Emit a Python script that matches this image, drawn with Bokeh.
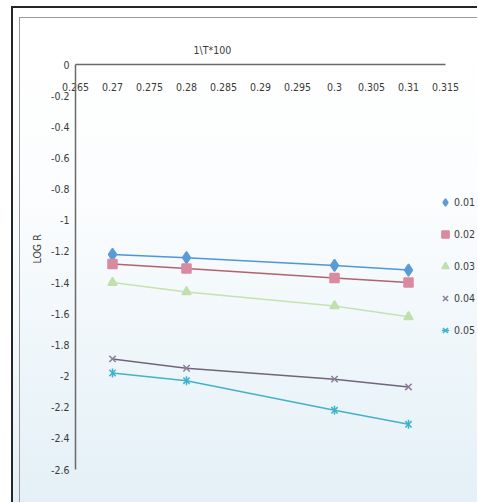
import math
from bokeh.plotting import figure
from bokeh.layouts import column
from bokeh.models import FixedTicker, Legend, LegendItem, Title
from bokeh.embed import file_html
from bokeh.resources import INLINE

# ---- data ----
x_vals = [0.27, 0.28, 0.30, 0.31]
series_names = ["0.01", "0.02", "0.03", "0.04", "0.05"]
s001 = [-1.22, -1.24, -1.29, -1.32]
s002 = [-1.28, -1.31, -1.37, -1.40]
s003 = [-1.40, -1.46, -1.55, -1.62]
s004 = [-1.89, -1.95, -2.02, -2.07]
s005 = [-1.98, -2.03, -2.22, -2.31]

x_ticks = [0.265, 0.27, 0.275, 0.28, 0.285, 0.29, 0.295, 0.3, 0.305, 0.31, 0.315]
x_tick_labels = ["0.265", "0.27", "0.275", "0.28", "0.285", "0.29", "0.295", "0.3", "0.305", "0.31", "0.315"]
y_ticks = [0, -0.2, -0.4, -0.6, -0.8, -1, -1.2, -1.4, -1.6, -1.8, -2, -2.2, -2.4, -2.6]
y_tick_labels = ["0", "-0.2", "-0.4", "-0.6", "-0.8", "-1", "-1.2", "-1.4", "-1.6", "-1.8", "-2", "-2.2", "-2.4", "-2.6"]

x_title = "1\\T*100"
y_title = "LOG R"

FONT = "DejaVu Sans Condensed, Liberation Sans Narrow, Liberation Sans, sans-serif"
TXT = "#3a3a3a"

W, H = 458, 485
FH = 405
ML, MT = 55, 46
AXW = 370                      # pixel length of the x axis (0.265 .. 0.315)
FW = W - ML                    # frame reaches the right edge (room for the legend)
x0, x1 = x_ticks[0], x_ticks[-1]
x_end = x0 + (x1 - x0) * FW / AXW

p = figure(width=W, height=H, output_backend="svg", toolbar_location=None,
           x_range=(x0, x_end), y_range=(y_ticks[-1], y_ticks[0]),
           x_axis_location="above", y_axis_location="left",
           min_border_left=ML, min_border_right=0,
           min_border_top=MT, min_border_bottom=H - MT - FH)
p.styles = {"border-left": "1px solid #9a9a9a", "border-top": "1px solid #9a9a9a",
            "background": "linear-gradient(to bottom, #ffffff 0%, #fcfdfe 35%, #eef6fa 70%, #e4f0f7 100%)"}
p.background_fill_alpha = 0
p.border_fill_alpha = 0
p.outline_line_color = None
p.xgrid.grid_line_color = None
p.ygrid.grid_line_color = None

xa = p.xaxis[0]
xa.bounds = (x0, x1)
xa.ticker = FixedTicker(ticks=x_ticks)
xa.major_label_overrides = {t: l for t, l in zip(x_ticks, x_tick_labels)}
xa.major_tick_out = 0
xa.major_tick_in = 0
xa.minor_tick_out = 0
xa.minor_tick_in = 0
xa.major_label_standoff = -26
xa.axis_line_color = "#6a6a6a"
xa.axis_line_width = 1.5

ya = p.yaxis[0]
ya.ticker = FixedTicker(ticks=y_ticks)
ya.major_label_overrides = {t: l for t, l in zip(y_ticks, y_tick_labels)}
ya.major_tick_out = 0
ya.major_tick_in = 0
ya.minor_tick_out = 0
ya.minor_tick_in = 0
ya.major_label_standoff = 6
ya.axis_line_color = "#6a6a6a"
ya.axis_line_width = 1.5

for ax in (xa, ya):
    ax.major_label_text_font = FONT
    ax.major_label_text_font_size = "10.5px"
    ax.major_label_text_color = TXT

xt = Title(text=x_title, align="left", offset=118, standoff=17,
           text_font=FONT, text_font_size="10.5px", text_font_style="normal", text_color=TXT)
p.add_layout(xt, "above")

yt = Title(text=y_title, align="left", offset=206, standoff=12,
           text_font=FONT, text_font_size="10.5px", text_font_style="normal", text_color=TXT)
p.add_layout(yt, "left")

items = []
cfg = [
    (s001, "#4f95da", "#5b9bd5", [("diamond", 12, 0)]),
    (s002, "#b3626e", "#d98aa0", [("square", 9, 0)]),
    (s003, "#c4e3b0", "#bfe0aa", [("triangle", 9, 0)]),
    (s004, "#706579", "#8a7f98", [("x", 9, 0)]),
    (s005, "#45b1c9", "#3fb2cb", [("x", 9, 0), ("dash", 9, math.pi / 2)]),
]
for name, (ys, lc, mc, marks) in zip(series_names, cfg):
    p.line(x_vals, ys, line_color=lc, line_width=1.5)
    rends = []
    for m, sz, ang in marks:
        r = p.scatter(x_vals, ys, marker=m, size=sz, angle=ang,
                      fill_color=mc, line_color=mc, line_width=1.5)
        rends.append(r)
    items.append(LegendItem(label=name, renderers=rends))

legend = Legend(items=items, location=(AXW - 9, 129))
legend.background_fill_alpha = 0
legend.border_line_color = None
legend.label_text_font = FONT
legend.label_text_font_size = "10.5px"
legend.label_text_color = TXT
legend.glyph_width = 18
legend.glyph_height = 20
legend.label_standoff = -8
legend.spacing = 12
legend.padding = 0
legend.margin = 0
p.add_layout(legend)

outer = column(p, styles={"border-left": "2px solid #262626", "border-top": "2px solid #262626",
                          "padding-left": "6px", "padding-top": "9px",
                          "margin-left": "11px", "margin-top": "6px",
                          "background": "linear-gradient(to bottom, #ffffff 0%, #f6fafc 60%, #e4f0f7 100%)"})

open("out.html", "w").write(file_html(outer, INLINE))
